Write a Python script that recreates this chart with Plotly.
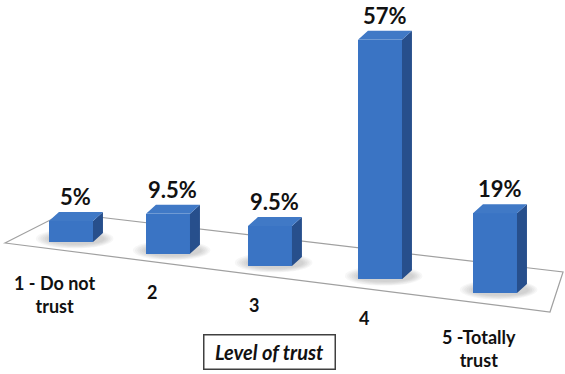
import plotly.graph_objects as go

# ---- data -------------------------------------------------------------
categories = ["1 - Do not<br>trust", "2", "3", "4", "5 -Totally<br>trust"]
shares = [5, 9.5, 9.5, 57, 19]            # percent of respondents
value_labels = [f"{v:g}%" for v in shares]
axis_title = "Level of trust"

# ---- geometry of the pseudo-3D scene (axis units) ---------------------
# x: category slot, y: percentage points
slots = [0, 0.915, 1.877, 2.915, 4.0]     # slightly widening spacing (perspective)
floor_drop = 3.04                          # floor descends this much per slot
bar_w = 0.415                              # width of a bar's front face
depth_dx, depth_dy = 0.094, 2.14           # receding offset of top/side faces
px_x, px_y = 106.0, 4.2                    # pixels per axis unit

bases = [-floor_drop * s for s in slots]

FRONT = "#3a74c4"
TOP = "#4079c6"
SIDE = "#274f8c"

fig = go.Figure()

# floor plate (parallelogram) drawn beneath everything
fl = (-0.623, -0.238)
bl = (-0.066, 6.905)
br = (4.642, -7.143)
fr = (4.519, -16.667)
floor_path = "M {} {} L {} {} L {} {} L {} {} Z".format(*fl, *bl, *br, *fr)
shapes = [dict(type="path", path=floor_path, xref="x", yref="y", layer="below",
               fillcolor="white", line=dict(color="#a0a0a0", width=1.2))]

# soft contact shadows around each bar's foot (stacked translucent ellipses)
for s, b in zip(slots, bases):
    for k in range(6):
        grow = (6 - k) * 2.2
        x0 = s - bar_w / 2 - grow / px_x
        x1 = s + bar_w / 2 + depth_dx + grow / px_x * 0.8
        y0 = b - (2 + grow * 0.35) / px_y
        y1 = b + (8 + grow * 0.4) / px_y
        shapes.append(dict(type="circle", xref="x", yref="y", layer="below",
                           x0=x0, x1=x1, y0=y0, y1=y1,
                           fillcolor="rgba(70,70,70,0.045)", line=dict(width=0)))

# front faces
fig.add_trace(go.Bar(x=slots, y=shares, base=bases, width=bar_w,
                     marker=dict(color=FRONT, line=dict(width=0)),
                     hoverinfo="skip", showlegend=False))

# side and top faces, one polygon per bar
side_x, side_y, top_x, top_y = [], [], [], []
for s, b, v in zip(slots, bases, shares):
    xl, xr, t = s - bar_w / 2, s + bar_w / 2, b + v
    side_x += [xr, xr + depth_dx, xr + depth_dx, xr, xr, None]
    side_y += [b, b + depth_dy, t + depth_dy, t, b, None]
    top_x += [xl, xr, xr + depth_dx, xl + depth_dx, xl, None]
    top_y += [t, t, t + depth_dy, t + depth_dy, t, None]

fig.add_trace(go.Scatter(x=side_x, y=side_y, mode="lines", fill="toself",
                         fillcolor=SIDE, line=dict(width=0, color=SIDE),
                         hoverinfo="skip", showlegend=False))
fig.add_trace(go.Scatter(x=top_x, y=top_y, mode="lines", fill="toself",
                         fillcolor=TOP, line=dict(width=0, color=TOP),
                         hoverinfo="skip", showlegend=False))

annotations = []
FONT = "Lato, 'Liberation Sans', sans-serif"

# value labels above each bar
for s, b, v, lab in zip(slots, bases, shares, value_labels):
    annotations.append(dict(x=s + depth_dx / 2, y=b + v + depth_dy, text=f"<b>{lab}</b>",
                            showarrow=False, yanchor="bottom", yshift=0,
                            font=dict(family=FONT, size=22, color="#111111")))

# category labels following the front edge of the floor
def front_edge(x):
    return fl[1] + (fr[1] - fl[1]) * (x - fl[0]) / (fr[0] - fl[0])

for s, cat in zip(slots, categories):
    lx = s - 16 / px_x
    gap = 17 + 4 * cat.count("<br>")
    annotations.append(dict(x=lx, y=front_edge(lx) - gap / px_y, text=f"<b>{cat}</b>",
                            showarrow=False, yanchor="top",
                            font=dict(family=FONT, size=18, color="#111111")))

# boxed axis title
annotations.append(dict(x=269 / 565, y=1 - 352 / 374, xref="paper", yref="paper",
                        xanchor="center", yanchor="middle",
                        text=f"<b><i>{axis_title}</i></b>", showarrow=False,
                        width=126, height=29, borderpad=2, borderwidth=1.5,
                        bordercolor="#404040", bgcolor="white",
                        font=dict(family=FONT, size=20, color="#111111")))

x_lo, x_hi = -71 / px_x, (565 - 71) / px_x
y_lo, y_hi = -(374 - 242) / px_y, 242 / px_y

fig.update_layout(
    width=565, height=374,
    margin=dict(l=0, r=0, t=0, b=0),
    paper_bgcolor="white", plot_bgcolor="white",
    xaxis=dict(range=[x_lo, x_hi], visible=False, fixedrange=True),
    yaxis=dict(range=[y_lo, y_hi], visible=False, fixedrange=True),
    shapes=shapes, annotations=annotations, bargap=0,
)

fig.write_html("out.html")
